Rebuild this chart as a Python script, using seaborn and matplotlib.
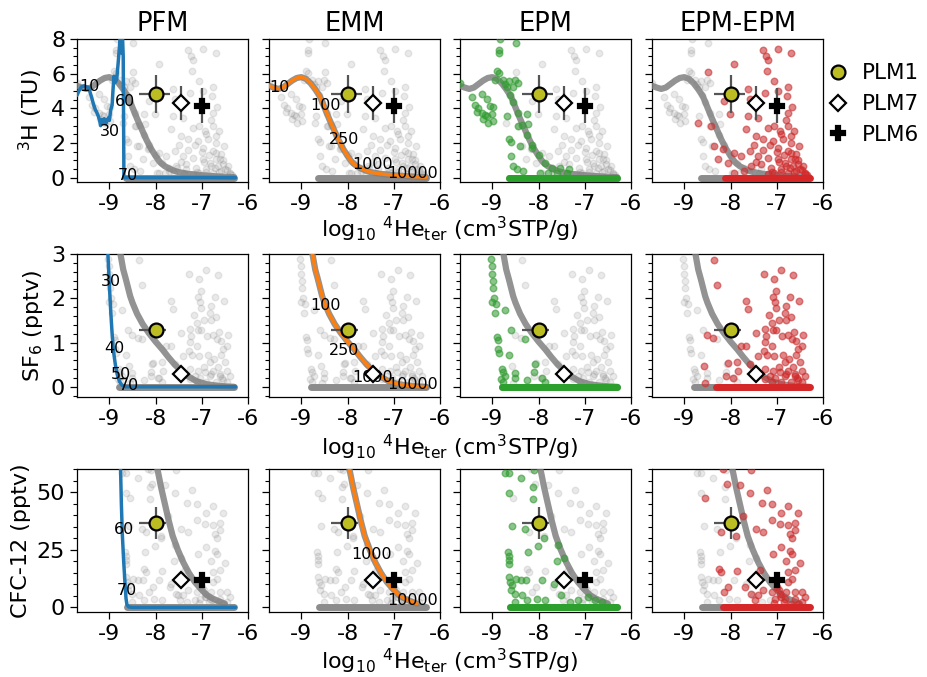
import matplotlib
matplotlib.use("Agg")
import matplotlib.pyplot as plt
import seaborn as sns
from matplotlib.ticker import MultipleLocator
from matplotlib.lines import Line2D

sns.set_style("ticks")
plt.rcParams["font.family"] = ["DejaVu Sans"]
plt.rcParams["axes.unicode_minus"] = False
for key in ["text.color", "axes.labelcolor", "xtick.color", "ytick.color", "axes.edgecolor"]:
    plt.rcParams[key] = "black"

# ---------------- categories / labels ----------------
models = ["PFM", "EMM", "EPM", "EPM-EPM"]
row_ylabels = ["$^3$H (TU)", "SF$_6$ (pptv)", "CFC-12 (pptv)"]
x_ticks = [-9, -8, -7, -6]
y_ticks_3h = [0, 2, 4, 6, 8]
y_ticks_sf6 = [0, 1, 2, 3]
y_ticks_cfc = [0, 25, 50]
xlabel_text = "log$_{10}$ $^4$He$_{\\mathrm{ter}}$ (cm$^3$STP/g)"

# ---------------- PFM model curves ----------------
pfm_x_3h = [-9.70, -9.65, -9.60, -9.55, -9.50, -9.45, -9.42, -9.38, -9.34, -9.30, -9.27, -9.24,
            -9.21, -9.19, -9.17, -9.14, -9.11, -9.08, -9.05, -9.02, -9.00, -8.97, -8.94, -8.92,
            -8.90, -8.87, -8.84, -8.81, -8.78, -8.76, -8.74, -8.72, -8.70, -8.685, -6.27]
pfm_y_3h = [4.75, 5.05, 5.25, 5.30, 5.25, 5.20, 4.95, 4.60, 4.20, 3.90, 3.75, 3.55,
            3.30, 3.00, 3.35, 3.20, 3.40, 3.10, 3.30, 3.45, 3.30, 3.90, 4.20, 5.10,
            5.85, 5.50, 5.70, 6.60, 7.60, 8.50, 7.20, 8.50, 7.00, 0.00, 0.00]
pfm_x_sf6 = [-9.04, -9.00, -8.97, -8.94, -8.91, -8.87, -8.83, -8.78, -8.73, -8.65, -6.27]
pfm_y_sf6 = [3.20, 2.30, 1.70, 1.20, 0.80, 0.50, 0.28, 0.12, 0.04, 0.00, 0.00]
pfm_x_cfc = [-8.76, -8.74, -8.72, -8.69, -8.66, -8.64, -8.62, -8.58, -8.50, -6.27]
pfm_y_cfc = [62.0, 45.0, 32.0, 20.0, 10.0, 4.0, 1.2, 0.2, 0.0, 0.0]

pfm_lab_3h = [("10", -9.66, 5.27), ("60", -8.87, 4.40), ("30", -9.21, 2.67), ("70", -8.82, 0.13)]
pfm_lab_sf6 = [("30", -9.19, 2.37), ("40", -9.11, 0.87), ("50", -8.98, 0.28), ("70", -8.80, 0.02)]
pfm_lab_cfc = [("60", -8.91, 33.8), ("70", -8.83, 7.5)]

# ---------------- EMM model curves ----------------
emm_x_3h = [-9.7, -9.6, -9.5, -9.4, -9.3, -9.2, -9.1, -9.0, -8.9, -8.8, -8.7, -8.6, -8.5, -8.4,
            -8.3, -8.2, -8.1, -8.0, -7.9, -7.8, -7.7, -7.6, -7.5, -7.3, -7.0, -6.7, -6.5, -6.3]
emm_y_3h = [5.30, 5.20, 5.12, 5.20, 5.40, 5.60, 5.75, 5.80, 5.70, 5.45, 5.10, 4.70, 4.05, 3.40,
            2.80, 2.20, 1.68, 1.25, 0.88, 0.66, 0.52, 0.40, 0.32, 0.22, 0.14, 0.08, 0.05, 0.03]
emm_x_sf6 = [-8.80, -8.76, -8.70, -8.64, -8.55, -8.50, -8.40, -8.28, -8.15, -8.00, -7.85, -7.73,
             -7.60, -7.45, -7.30, -7.12, -6.90, -6.70, -6.50, -6.30]
emm_y_sf6 = [3.20, 3.00, 2.65, 2.42, 2.05, 1.90, 1.65, 1.42, 1.22, 1.02, 0.84, 0.68,
             0.52, 0.36, 0.24, 0.13, 0.06, 0.03, 0.01, 0.00]
emm_x_cfc = [-7.98, -7.96, -7.88, -7.80, -7.72, -7.63, -7.52, -7.40, -7.28, -7.15, -7.02, -6.90,
             -6.78, -6.65, -6.50]
emm_y_cfc = [62.0, 60.0, 52.0, 45.0, 38.0, 31.0, 25.0, 19.5, 15.0, 11.0, 8.0, 5.5,
             4.0, 2.8, 1.6]

emm_lab_3h = [("10", -9.69, 5.23), ("100", -8.81, 4.15), ("250", -8.41, 2.19),
              ("1000", -7.90, 0.75), ("10000", -7.14, 0.23)]
emm_lab_sf6 = [("100", -8.81, 1.84), ("250", -8.41, 0.81), ("1000", -7.90, 0.22),
               ("10000", -7.14, 0.05)]
emm_lab_cfc = [("1000", -7.92, 22.9), ("10000", -7.14, 2.9)]

# ---------------- EPM model points ----------------
epm_x_3h = [-8.83, -8.49, -8.85, -8.85, -8.89, -8.85, -8.94, -8.78, -8.63, -8.51, -8.45, -8.69,
            -8.56, -9.69, -9.45, -9.23, -9.38, -9.30, -9.12, -9.05, -8.98, -9.22, -9.12, -9.01,
            -9.20, -9.09, -8.98, -8.69, -8.65, -8.60, -8.26, -8.23, -8.44, -8.40, -8.15, -8.60,
            -8.56, -8.47, -8.33, -7.97, -7.79, -7.61, -7.53, -7.39, -7.35,
            -8.72, -8.62, -8.55, -8.45, -8.35, -8.25, -8.15, -8.00, -7.85, -7.70, -9.33, -9.15]
epm_y_3h = [8.00, 7.77, 7.39, 7.20, 6.14, 6.01, 5.66, 5.66, 5.57, 5.66, 5.47, 5.24,
            5.24, 5.47, 4.66, 4.80, 4.17, 4.03, 4.51, 4.13, 4.09, 3.74, 3.55, 3.65,
            3.36, 3.17, 3.26, 3.55, 2.21, 2.05, 3.69, 3.07, 2.98, 1.82, 1.73, 1.25,
            0.67, 0.48, 0.38, 0.29, 0.25, 0.29, 0.58, 0.29, 0.48,
            5.40, 4.75, 4.35, 3.75, 3.05, 2.45, 1.90, 1.30, 0.82, 0.55, 3.80, 3.60]
epm_band_x_3h = [-8.65, -6.30]

epm_x_sf6 = [-9.03, -9.01, -9.00, -8.99, -8.98, -8.96, -9.00, -8.93, -8.73, -8.94, -8.91, -8.88,
             -8.87, -8.85, -8.65, -8.60, -8.29, -8.08, -8.09, -8.80, -8.76, -8.73, -8.51, -8.52,
             -8.26, -7.92, -7.86, -8.81, -8.78]
epm_y_sf6 = [2.89, 2.72, 2.54, 2.39, 2.24, 2.00, 1.92, 1.86, 1.73, 1.66, 1.12, 1.05,
             0.86, 0.77, 0.71, 1.28, 1.09, 0.52, 0.33, 0.40, 0.33, 0.25, 0.31, 0.19,
             0.16, 0.19, 0.11, 0.17, 0.11]
epm_band_x_sf6 = [-8.80, -6.30]

epm_x_cfc = [-8.73, -8.65, -8.09, -8.38, -8.65, -8.11, -8.13, -8.57, -8.29, -7.89, -8.02, -8.23,
             -8.67, -8.65, -8.65, -8.64, -7.58, -7.60, -7.46, -8.64, -8.62, -8.58, -8.49, -8.38,
             -8.27, -7.92, -8.60, -8.52, -8.36, -8.26, -8.04, -7.86, -7.66, -7.51, -7.32, -7.14,
             -6.92, -6.77, -6.63, -8.52]
epm_y_cfc = [58.1, 58.1, 59.6, 56.2, 49.7, 52.0, 47.2, 35.4, 33.8, 30.3, 26.5, 24.1,
             24.1, 22.2, 19.0, 20.4, 27.0, 20.1, 21.2, 13.2, 11.0, 9.6, 12.5, 12.0,
             12.0, 11.7, 7.4, 5.9, 5.2, 3.0, 3.8, 3.0, 10.3, 5.2, 2.3, 3.0,
             4.5, 3.0, 2.3, 2.3]
epm_band_x_cfc = [-8.62, -6.30]

# ---------------- EPM-EPM model points ----------------
epmepm_x_3h = [-7.30, -6.98, -6.69, -7.23, -7.18, -7.92, -7.21, -8.49, -7.05, -6.76, -7.63, -6.98,
               -8.15, -7.59, -7.25, -6.77, -6.67, -6.76, -8.70, -8.42, -8.02, -7.63, -7.41, -7.66,
               -7.45, -7.19, -7.05, -6.94, -6.76, -6.62, -7.30, -7.09, -6.87, -6.69, -6.51, -6.98,
               -6.76, -6.58, -8.35, -8.17, -7.92, -7.77, -8.28, -8.06, -7.59, -7.41, -7.19, -6.98,
               -6.83, -6.69, -6.54, -6.43, -7.55, -7.34, -7.12, -6.90, -6.72, -6.58, -6.40, -7.92,
               -7.70, -7.05, -6.85, -6.70, -6.60, -6.55, -6.50, -6.45, -6.62, -6.75, -6.90, -7.10,
               -7.20, -6.95, -6.80, -6.65, -6.40, -6.35, -7.00, -6.90, -6.80, -6.70, -7.15, -7.30,
               -7.50, -7.45]
epmepm_y_3h = [7.35, 7.43, 7.20, 7.04, 6.81, 6.53, 6.14, 6.08, 5.60, 5.24, 5.12, 4.99,
               4.41, 4.51, 4.90, 4.70, 4.09, 3.74, 3.17, 2.98, 3.65, 3.55, 3.45, 2.78,
               2.40, 2.88, 2.98, 2.69, 2.98, 2.69, 2.21, 2.11, 2.21, 2.02, 1.82, 1.73,
               1.54, 1.34, 1.82, 1.63, 1.44, 1.25, 1.06, 0.86, 1.54, 1.25, 1.15, 1.06,
               0.86, 1.06, 0.77, 0.67, 0.67, 0.77, 0.58, 0.48, 0.58, 0.38, 0.29, 0.29,
               0.38, 0.29, 1.30, 1.40, 1.10, 1.00, 0.50, 0.45, 0.30, 0.25, 0.35, 0.35,
               0.20, 0.90, 0.70, 0.65, 0.20, 0.15, 1.50, 2.50, 3.30, 2.40, 1.90, 1.60,
               1.90, 0.90]
epmepm_band_x_3h = [-8.13, -6.28]

epmepm_x_sf6 = [-8.36, -8.29, -7.27, -6.90, -7.06, -6.64, -7.02, -7.08, -7.67, -7.63, -7.04, -7.01,
                -6.79, -6.72, -6.51, -7.17, -6.83, -6.70, -6.79, -7.11, -6.96, -7.26, -7.08, -7.46,
                -7.24, -7.01, -6.88, -6.75, -6.63, -6.68, -6.59, -6.43, -6.46, -7.26, -7.10, -7.66,
                -7.78, -7.27, -7.40, -7.22, -7.06, -6.86, -6.73, -6.59, -6.54, -6.83, -6.50, -8.50,
                -8.39, -8.57, -8.05, -7.85, -7.58, -7.84, -7.26, -7.08, -6.93, -6.75, -6.61, -6.45,
                -6.39, -8.10, -7.95, -7.04, -6.83, -6.57, -7.26, -8.56, -6.90, -6.70, -6.55, -6.45,
                -7.10, -6.80, -6.60, -7.15, -6.95, -6.65]
epmepm_y_sf6 = [2.87, 2.29, 2.54, 2.63, 2.44, 2.53, 2.17, 2.03, 1.94, 1.75, 1.91, 1.77,
                1.83, 2.03, 1.94, 1.62, 1.67, 1.58, 1.50, 1.45, 1.50, 1.30, 1.29, 1.21,
                1.15, 1.28, 1.15, 1.18, 1.24, 1.09, 1.03, 1.18, 0.93, 1.01, 0.93, 0.93,
                0.93, 0.82, 0.69, 0.72, 0.69, 0.72, 0.63, 0.71, 0.86, 0.55, 0.55, 1.16,
                1.10, 0.46, 0.53, 0.55, 0.52, 0.36, 0.40, 0.36, 0.33, 0.36, 0.29, 0.36,
                0.25, 0.25, 0.21, 0.21, 0.25, 0.19, 0.17, 0.08, 0.12, 0.10, 0.15, 0.10,
                0.10, 0.30, 0.25, 0.25, 0.45, 0.45]
epmepm_band_x_sf6 = [-8.31, -6.28]

epmepm_x_cfc = [-8.16, -7.55, -8.56, -8.07, -7.80, -7.58, -7.22, -7.32, -7.10, -6.75, -6.91, -6.55,
                -7.11, -6.93, -6.75, -6.61, -7.73, -7.44, -7.29, -6.72, -6.61, -6.68, -7.89, -8.20,
                -6.91, -7.08, -6.72, -6.67, -6.79, -6.50, -7.37, -6.75, -6.61, -8.26, -8.20, -7.85,
                -6.67, -6.75, -8.05, -8.14, -7.69, -7.55, -7.40, -7.29, -7.11, -6.93, -6.79, -6.61,
                -6.46, -6.39, -7.04, -6.83, -6.61, -7.48, -7.00, -6.95, -6.90, -7.05, -6.85, -6.70,
                -6.55, -6.45]
epmepm_y_cfc = [59.9, 59.6, 47.5, 53.5, 53.0, 49.7, 50.9, 45.4, 44.8, 43.9, 41.0, 41.0,
                38.1, 36.1, 35.7, 36.7, 39.6, 33.8, 32.8, 31.7, 33.5, 30.3, 30.9, 32.8,
                26.2, 23.3, 24.5, 23.3, 20.1, 19.3, 16.4, 15.4, 16.1, 16.8, 15.4, 15.8,
                12.5, 11.0, 8.8, 6.7, 8.8, 5.9, 5.2, 7.4, 6.7, 5.9, 6.7, 6.7,
                6.7, 4.5, 3.8, 3.8, 3.8, 3.0, 9.0, 7.5, 4.5, 2.0, 2.5, 1.5,
                1.5, 2.5]
epmepm_band_x_cfc = [-8.16, -6.28]

# ---------------- samples ----------------
sample_names = ["PLM1", "PLM7", "PLM6"]
sample_x = [-8.0, -7.45, -7.0]
sample_y_3h = [4.85, 4.30, 4.15]
sample_yerr_3h = [1.10, 1.00, 1.00]
sample_xerr_3h = [(0.35, 0.32), None, None]
sample_y_sf6 = [1.28, 0.30, None]
sample_yerr_sf6 = [0.11, None, None]
sample_xerr_sf6 = [(0.35, 0.22), None, None]
sample_y_cfc = [36.5, 12.0, 12.0]
sample_yerr_cfc = [7.0, None, None]
sample_xerr_cfc = [(0.35, 0.22), None, None]
sample_marker = ["o", "D", "P"]
sample_face = ["#bcbd22", "white", "black"]
sample_ms = [10, 8.2, 10]

# ---------------- assemble rows ----------------
rows = [
    dict(pfm=(pfm_x_3h, pfm_y_3h), emm=(emm_x_3h, emm_y_3h), epm=(epm_x_3h, epm_y_3h),
         epmepm=(epmepm_x_3h, epmepm_y_3h), epm_band=epm_band_x_3h, epmepm_band=epmepm_band_x_3h,
         pfm_lab=pfm_lab_3h, emm_lab=emm_lab_3h, ylim=(-0.25, 8), yt=y_ticks_3h, ymin=0.5,
         sy=sample_y_3h, syerr=sample_yerr_3h, sxerr=sample_xerr_3h),
    dict(pfm=(pfm_x_sf6, pfm_y_sf6), emm=(emm_x_sf6, emm_y_sf6), epm=(epm_x_sf6, epm_y_sf6),
         epmepm=(epmepm_x_sf6, epmepm_y_sf6), epm_band=epm_band_x_sf6, epmepm_band=epmepm_band_x_sf6,
         pfm_lab=pfm_lab_sf6, emm_lab=emm_lab_sf6, ylim=(-0.23, 3), yt=y_ticks_sf6, ymin=0.2,
         sy=sample_y_sf6, syerr=sample_yerr_sf6, sxerr=sample_xerr_sf6),
    dict(pfm=(pfm_x_cfc, pfm_y_cfc), emm=(emm_x_cfc, emm_y_cfc), epm=(epm_x_cfc, epm_y_cfc),
         epmepm=(epmepm_x_cfc, epmepm_y_cfc), epm_band=epm_band_x_cfc, epmepm_band=epmepm_band_x_cfc,
         pfm_lab=pfm_lab_cfc, emm_lab=emm_lab_cfc, ylim=(-2, 60), yt=y_ticks_cfc, ymin=5,
         sy=sample_y_cfc, syerr=sample_yerr_cfc, sxerr=sample_xerr_cfc),
]

colors = {"PFM": "#1f77b4", "EMM": "#ff7f0e", "EPM": "#2ca02c", "EPM-EPM": "#d62728"}

W, H = 927, 677
fig = plt.figure(figsize=(W / 100, H / 100), dpi=100)
col_left = [77, 269, 460, 652]
row_top = [39, 254, 469]
ax_w, ax_h = 171, 143

FS = 16
for r, row in enumerate(rows):
    for c, model in enumerate(models):
        ax = fig.add_axes([col_left[c] / W, 1 - (row_top[r] + ax_h) / H, ax_w / W, ax_h / H])
        # gray background: other models
        sns.scatterplot(x=row["epm"][0] + row["epmepm"][0], y=row["epm"][1] + row["epmepm"][1],
                        ax=ax, color="gray", alpha=0.17, s=22, edgecolor="gray", linewidth=1,
                        legend=False, zorder=1)
        ax.plot(row["epm_band"], [0, 0], color="#8c8c8c", lw=5, solid_capstyle="round", zorder=2)
        sns.lineplot(x=row["emm"][0], y=row["emm"][1], ax=ax, color="gray", lw=4.5, alpha=0.85,
                     sort=False, estimator=None, zorder=3)
        col = colors[model]
        if model == "PFM":
            sns.lineplot(x=row["pfm"][0], y=row["pfm"][1], ax=ax, color=col, lw=2.5,
                         sort=False, estimator=None, zorder=4)
            labs = row["pfm_lab"]
        elif model == "EMM":
            sns.lineplot(x=row["emm"][0], y=row["emm"][1], ax=ax, color=col, lw=2.5,
                         sort=False, estimator=None, zorder=4)
            labs = row["emm_lab"]
        elif model == "EPM":
            ax.plot(row["epm_band"], [0, 0], color=col, lw=5, solid_capstyle="round", zorder=4)
            sns.scatterplot(x=row["epm"][0], y=row["epm"][1], ax=ax, color=col, alpha=0.5, s=22,
                            edgecolor=col, linewidth=1, legend=False, zorder=5)
            labs = []
        else:
            ax.plot(row["epmepm_band"], [0, 0], color=col, lw=5, solid_capstyle="round", zorder=4)
            sns.scatterplot(x=row["epmepm"][0], y=row["epmepm"][1], ax=ax, color=col, alpha=0.5,
                            s=22, edgecolor=col, linewidth=1, legend=False, zorder=5)
            labs = []
        for t, tx, ty in labs:
            ax.text(tx, ty, t, fontsize=11.5, ha="left", va="center", zorder=6)
        # samples
        for k in range(3):
            if row["sy"][k] is None:
                continue
            xe = None if row["sxerr"][k] is None else [[row["sxerr"][k][0]], [row["sxerr"][k][1]]]
            ax.errorbar([sample_x[k]], [row["sy"][k]], yerr=row["syerr"][k], xerr=xe,
                        fmt=sample_marker[k], mfc=sample_face[k], mec="black", mew=1.6,
                        ms=sample_ms[k], ecolor="#555555", elinewidth=1.6, capsize=0, zorder=10)
        ax.set_xlim(-9.7, -6)
        ax.set_ylim(*row["ylim"])
        ax.set_xticks(x_ticks)
        ax.set_xticklabels([str(v) for v in x_ticks])
        ax.set_yticks(row["yt"])
        ax.yaxis.set_minor_locator(MultipleLocator(row["ymin"]))
        ax.tick_params(axis="both", which="major", labelsize=FS, length=5, width=0.9)
        ax.tick_params(axis="y", which="minor", length=3, width=0.8)
        ax.set_xlabel("")
        if c == 0:
            ax.set_yticklabels([str(v) for v in row["yt"]])
            ax.set_ylabel(row_ylabels[r], fontsize=16, labelpad=4)
        else:
            ax.set_yticklabels([])
            ax.set_ylabel("")
        for s in ax.spines.values():
            s.set_linewidth(0.9)
            s.set_visible(True)
        if r == 0:
            ax.set_title(model, fontsize=18.5, pad=6)

xlabel_y = [229, 447, 661]
for yy in xlabel_y:
    fig.text(449.5 / W, 1 - yy / H, xlabel_text, ha="center", va="center", fontsize=16)

handles = [Line2D([], [], ls="", marker=sample_marker[k], mfc=sample_face[k], mec="black",
                  mew=1.6, ms=sample_ms[k], label=sample_names[k]) for k in range(3)]
fig.legend(handles=handles, loc="upper left", bbox_to_anchor=(808 / W, 1 - 44 / H),
           frameon=False, fontsize=15.5, handlelength=1.0, handletextpad=0.6, labelspacing=0.5)

fig.savefig("out.png", dpi=100)
